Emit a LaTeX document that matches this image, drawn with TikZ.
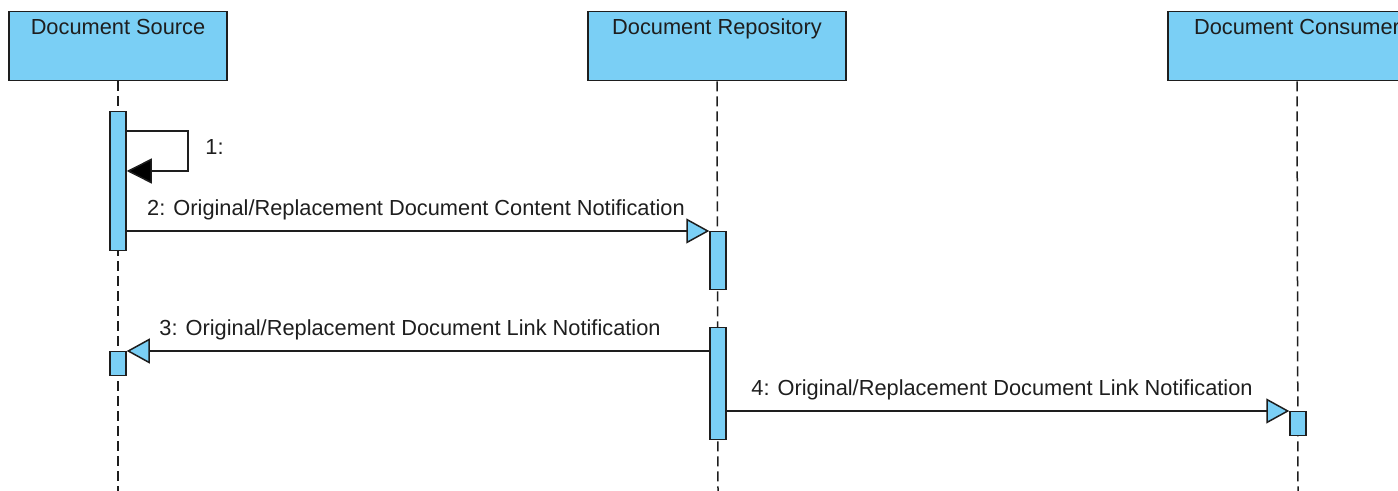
\documentclass[tikz,border=0pt]{standalone}
\usepackage{fontspec}
\setmainfont{Liberation Sans}
\usetikzlibrary{arrows.meta,positioning}
\definecolor{actfill}{RGB}{122,207,245}
\definecolor{ink}{RGB}{30,30,30}

\begin{document}
\begin{tikzpicture}[x=0.5pt,y=-0.5pt,>=Stealth,font=\fontsize{10.9}{13}\selectfont,text=ink,
 actor/.style={draw=ink,fill=actfill,line width=0.75pt,anchor=north,minimum height=34.5pt,
  text height=10pt,text depth=21.5pt,inner ysep=1.5pt},
 act/.style={draw=ink,fill=actfill,line width=0.75pt,minimum width=8pt,anchor=north,inner sep=0pt},
 lifeline/.style={draw=ink,line width=0.75pt,dash pattern=on 5pt off 2.5pt},
 msg/.style={draw=ink,line width=0.75pt,-{Triangle[length=11.5pt,width=12.5pt,fill=actfill]}},
 selfmsg/.style={draw=ink,line width=0.75pt,-{Triangle[length=12.5pt,width=12.5pt,fill=black]}}]
\useasboundingbox (0,0) rectangle (1398,491);
\clip (0,0) rectangle (1398,491);
\node[actor,minimum width=109pt] (src) at (118,11) {Document Source};
\node[actor,minimum width=129pt] (repo) at (717,11) {Document Repository};
\node[actor,minimum width=129pt] (cons) at (1297,11) {Document Consumer};
\coordinate (srcend) at (118,491);
\coordinate (repoend) at (718,491);
\coordinate (consend) at (1298,491);
\draw[lifeline] (src.south) -- (srcend);
\draw[lifeline] (repo.south) -- (repoend);
\draw[lifeline] (cons.south) -- (consend);
% activations
\node[act,minimum height=69.5pt] (src1) at (118,111) {};
\node[act,minimum height=29pt] (repo1) at (718,231) {};
\node[act,minimum height=56pt] (repo2) at (718,327) {};
\node[act,minimum height=12pt] (src2) at (118,351) {};
\node[act,minimum height=12pt] (cons1) at (1298,411) {};
% messages
\coordinate (s1) at (188,131);
\coordinate (s2) at (188,171);
\draw[selfmsg] (src1.east |- s1) -- (s1) -- (s2) node[midway,right=5pt,yshift=2pt] {1:} -- (src1.east |- s2);
\draw[msg] (src1.east |- repo1.north) -- (repo1.north west)
 node[midway,above=2pt,xshift=-1pt] {2: Original/Replacement Document Content Notification};
\draw[msg] (repo2.west |- src2.north) -- (src2.north east)
 node[midway,above=2pt,xshift=-4pt] {3: Original/Replacement Document Link Notification};
\draw[msg] (repo2.east |- cons1.north) -- (cons1.north west)
 node[midway,above=2pt,xshift=-3pt] {4: Original/Replacement Document Link Notification};
\end{tikzpicture}
\end{document}
